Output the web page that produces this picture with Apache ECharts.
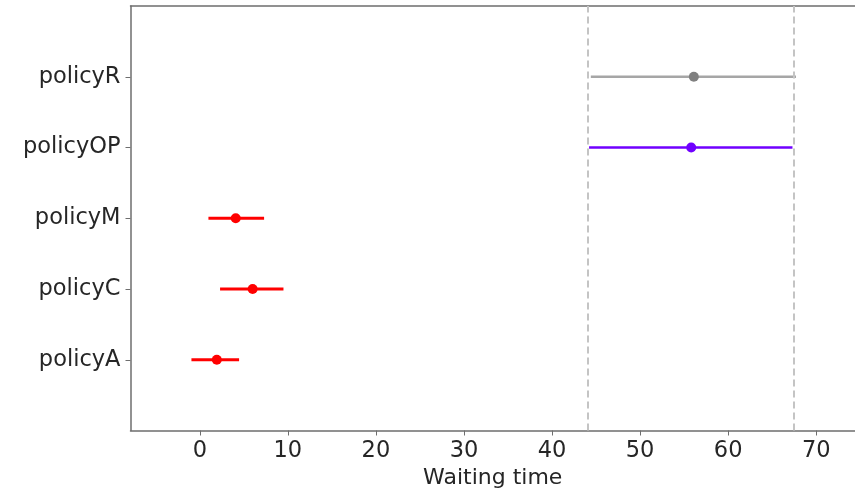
<!DOCTYPE html>
<html>
<head>
<meta charset="utf-8">
<script src="https://cdn.jsdelivr.net/npm/echarts@6/dist/echarts.min.js"></script>
<style>
  html, body { margin: 0; padding: 0; background: #fff; }
  #chart { width: 855px; height: 490px; }
</style>
</head>
<body>
<div id="chart"></div>
<script>
// policies, bottom to top
var policies = ["policyA", "policyC", "policyM", "policyOP", "policyR"];
var means = [1.93, 6.0, 4.08, 55.8, 56.1];
var lows = [-0.95, 2.3, 0.98, 44.2, 44.4];
var highs = [4.46, 9.5, 7.3, 67.3, 67.7];
var lineColors = ["#ff0000", "#ff0000", "#ff0000", "#7000ff", "#a6a6a6"];
var dotColors = ["#ff0000", "#ff0000", "#ff0000", "#7000ff", "#808080"];
var refLines = [44.0, 67.4];
var xTicks = [0, 10, 20, 30, 40, 50, 60, 70];

var font = "DejaVu Sans";
var axisCol = "#6e6e6e";
var textCol = "#262626";

var barData = [], dotData = [];
for (var i = 0; i < policies.length; i++) {
    barData.push([i, lows[i], highs[i]]);
    dotData.push({value: [means[i], i], itemStyle: {color: dotColors[i], opacity: 1}});
}

var chart = echarts.init(document.getElementById("chart"));
chart.setOption({
    animation: false,
    grid: {left: 130.5, right: 0, top: 6, bottom: 59.5, outerBoundsMode: "none", containLabel: false},
    xAxis: [{
        type: "value", min: -7.87, max: 74.4,
        name: "Waiting time", nameLocation: "middle", nameGap: 37,
        nameTextStyle: {fontFamily: font, fontSize: 22, color: textCol},
        axisLine: {show: true, onZero: false, lineStyle: {color: axisCol, width: 1.5}},
        axisTick: {show: true, length: 5, lineStyle: {color: axisCol}, customValues: xTicks},
        axisLabel: {fontFamily: font, fontSize: 22.5, color: textCol, margin: 9, customValues: xTicks},
        splitLine: {show: false}
    }, {
        type: "value", position: "top", min: -7.87, max: 74.4,
        axisLine: {show: true, onZero: false, lineStyle: {color: axisCol, width: 1.5}},
        axisTick: {show: false}, axisLabel: {show: false}, splitLine: {show: false}
    }],
    yAxis: {
        type: "value", min: -1, max: 5, interval: 1,
        axisLine: {show: true, onZero: false, lineStyle: {color: axisCol, width: 1.5}},
        axisTick: {show: true, length: 5, lineStyle: {color: axisCol}, customValues: [0, 1, 2, 3, 4]},
        axisLabel: {
            fontFamily: font, fontSize: 22.5, color: textCol, margin: 10,
            customValues: [0, 1, 2, 3, 4],
            formatter: function (v) { return policies[v] || ""; }
        },
        splitLine: {show: false}
    },
    series: [{
        type: "custom",
        data: barData,
        encode: {x: [1, 2], y: 0},
        renderItem: function (params, api) {
            var idx = api.value(0);
            var a = api.coord([api.value(1), idx]);
            var b = api.coord([api.value(2), idx]);
            return {
                type: "line",
                shape: {x1: a[0], y1: a[1], x2: b[0], y2: b[1]},
                style: {stroke: lineColors[idx], lineWidth: idx < 3 ? 3 : 2.5}
            };
        },
        markLine: {
            silent: true, symbol: "none", label: {show: false},
            lineStyle: {color: "#c4c4c4", type: [7, 4], width: 2},
            data: refLines.map(function (v) { return {xAxis: v}; })
        },
        z: 2
    }, {
        type: "scatter",
        data: dotData,
        symbolSize: 10,
        z: 3
    }]
});
</script>
</body>
</html>
